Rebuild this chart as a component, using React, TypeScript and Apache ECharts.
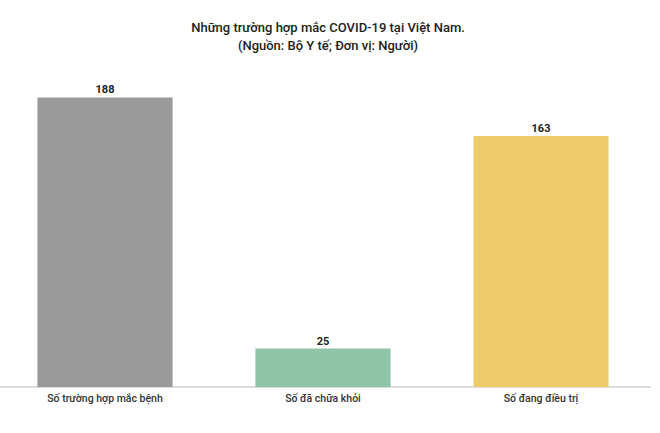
import React, { useEffect, useRef } from "react";
import * as echarts from "echarts";

const categories = ["Số trường hợp mắc bệnh", "Số đã chữa khỏi", "Số đang điều trị"];
const values = [188, 25, 163];
const colors = ["#9a9a9a", "#8fc4a8", "#eecb6b"];
const titleText = "Những trường hợp mắc COVID-19 tại Việt Nam.\n(Nguồn: Bộ Y tế; Đơn vị: Người)";

export default function App() {
  const ref = useRef<HTMLDivElement>(null);
  useEffect(() => {
    if (!ref.current) return;
    const chart = echarts.init(ref.current, null, { renderer: "svg" });
    chart.setOption({
      animation: false,
      title: {
        text: titleText,
        left: "center",
        top: 13,
        textStyle: {
          fontFamily: "Roboto",
          fontSize: 13,
          fontWeight: 500,
          color: "#222",
          lineHeight: 18,
          align: "center",
        },
      },
      grid: { left: 0, right: 10, top: 79, bottom: 46, containLabel: false },
      xAxis: {
        type: "category",
        data: categories,
        axisLine: { show: true, lineStyle: { color: "#dddddd", width: 2 } },
        axisTick: { show: false },
        axisLabel: {
          fontFamily: "Roboto",
          fontSize: 10.5,
          fontWeight: 500,
          color: "#333",
          margin: 6,
        },
      },
      yAxis: {
        type: "value",
        min: 0,
        max: 200,
        show: false,
        splitLine: { show: false },
      },
      series: [
        {
          type: "bar",
          barCategoryGap: "38%",
          data: values.map((v, i) => ({ value: v, itemStyle: { color: colors[i] } })),
          label: {
            show: true,
            position: "top",
            distance: 2,
            fontFamily: "Roboto",
            fontSize: 11,
            fontWeight: "bold",
            color: "#222",
          },
        },
      ],
    });
    return () => chart.dispose();
  }, []);
  return (
    <div
      ref={ref}
      style={{ position: "fixed", left: -4, top: 0, width: 664, height: 433, background: "#fff" }}
    />
  );
}
